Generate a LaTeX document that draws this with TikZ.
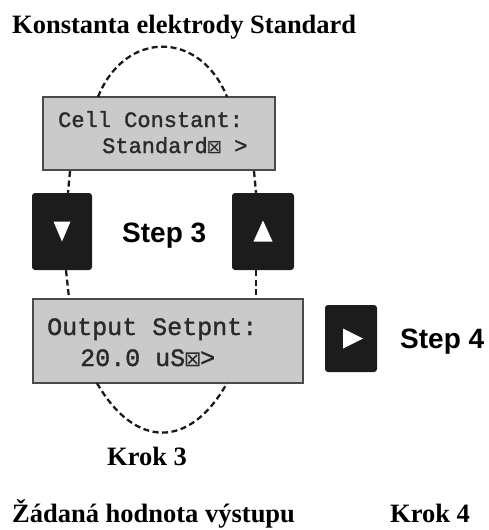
\documentclass[tikz,border=0pt]{standalone}
\usepackage{fontspec}
\setmainfont{Liberation Serif}
\newfontfamily\lcdfont[FakeBold=1.4]{Liberation Mono}
\newfontfamily\stepfont{Liberation Sans}
\newfontfamily\symfnt{DejaVu Sans}
\newcommand{\xbox}{\makebox[0.6em]{\symfnt\scalebox{0.85}{⊠}}}
\definecolor{lcdfill}{HTML}{CACACA}
\definecolor{lcdedge}{HTML}{4A4A4A}
\definecolor{lcdtext}{HTML}{2A2A2A}
\definecolor{btn}{HTML}{1C1C1C}
\definecolor{dashcol}{HTML}{1A1A1A}
\tikzset{
  lcd/.style={draw=lcdedge, line width=2.2pt, fill=lcdfill, inner sep=0pt},
  lcdinner/.style={draw=white!70!lcdedge, line width=0.8pt},
  btnbox/.style={fill=btn, rounded corners=3pt, inner sep=0pt},
  tri/.style={fill=white, draw=none},
  dashln/.style={draw=dashcol, line width=2.3pt, dash pattern=on 6pt off 3.5pt},
  lcdtxt/.style={anchor=base west, inner sep=0pt, text=lcdtext},
  serifbold/.style={anchor=base west, inner sep=0pt, font=\fontsize{26.5}{30}\selectfont\bfseries},
  sansbold/.style={anchor=base west, inner sep=0pt, font=\stepfont\fontsize{28}{32}\selectfont\bfseries},
}
\begin{document}
\begin{tikzpicture}[x=1pt,y=-1pt]
\useasboundingbox (0,0) rectangle (489,530);

% title
\node[serifbold] (title) at (12,33) {Konstanta elektrody Standard};

% top LCD
\node[lcd, minimum width=232pt, minimum height=73pt] (lcdA) at (159,133.5) {};
\draw[lcdinner] ([shift={(3.5,3.5)}]lcdA.north west) rectangle ([shift={(-3.5,-3.5)}]lcdA.south east);
\node[lcdtxt, font=\lcdfont\fontsize{22}{24}\selectfont] (a1) at (58,127) {Cell Constant:};
\node[lcdtxt, font=\lcdfont\fontsize{22}{24}\selectfont] (a2) at (102,153) {Standard\xbox{} >};

% buttons
\node[btnbox, minimum width=60pt, minimum height=77pt] (down) at (62,231.5) {};
\fill[tri] ([shift={(-8.5,-10)}]down.center) -- ([shift={(8.5,-10)}]down.center) -- ([shift={(0,10)}]down.center) -- cycle;
\node[btnbox, minimum width=62pt, minimum height=77pt] (up) at (263,231.5) {};
\fill[tri] ([shift={(-9.5,10)}]up.center) -- ([shift={(9.5,10)}]up.center) -- ([shift={(0,-11)}]up.center) -- cycle;
\node[sansbold] (step3) at (122,242) {Step 3};

% lower LCD
\node[lcd, minimum width=270pt, minimum height=84pt] (lcdB) at (168,341) {};
\draw[lcdinner] ([shift={(3.5,3.5)}]lcdB.north west) rectangle ([shift={(-3.5,-3.5)}]lcdB.south east);
\node[lcdtxt, font=\lcdfont\fontsize{25}{27}\selectfont] (b1) at (47,335) {Output Setpnt:};
\node[lcdtxt, font=\lcdfont\fontsize{25}{27}\selectfont] (b2) at (80,366) {20.0 uS\xbox>};

% right button
\node[btnbox, minimum width=52pt, minimum height=67pt] (right) at (351,338.5) {};
\fill[tri] ([shift={(-8,-10)}]right.center) -- ([shift={(-8,10)}]right.center) -- ([shift={(12,0)}]right.center) -- cycle;
\node[sansbold] (step4) at (400,348) {Step 4};

% dashed connectors
\draw[dashln] ([xshift=-61pt,yshift=-1pt]lcdA.north) .. controls ([xshift=-34pt,yshift=66pt]lcdA.north) and ([xshift=41pt,yshift=66pt]lcdA.north) .. ([xshift=68pt,yshift=-1pt]lcdA.north);
\draw[dashln] ([xshift=8pt]down.north |- lcdA.south) -- ([xshift=6pt]down.north);
\draw[dashln] ([xshift=-9pt]up.north |- lcdA.south) -- ([xshift=-7pt]up.north);
\draw[dashln] ([xshift=4pt]down.south) -- ([xshift=7pt]down.south |- lcdB.north);
\draw[dashln] ([xshift=-7pt]up.south) -- ([xshift=-7pt]up.south |- lcdB.north);
\draw[dashln] ([xshift=-71pt,yshift=1pt]lcdB.south) .. controls ([xshift=-33pt,yshift=-65pt]lcdB.south) and ([xshift=22pt,yshift=-65pt]lcdB.south) .. ([xshift=59pt,yshift=1pt]lcdB.south);

% bottom labels
\node[serifbold] (krok3) at (107,465) {Krok 3};
\node[serifbold] (zad) at (12,522) {Žádaná hodnota výstupu};
\node[serifbold] (krok4) at (390,522) {Krok 4};
\end{tikzpicture}
\end{document}
